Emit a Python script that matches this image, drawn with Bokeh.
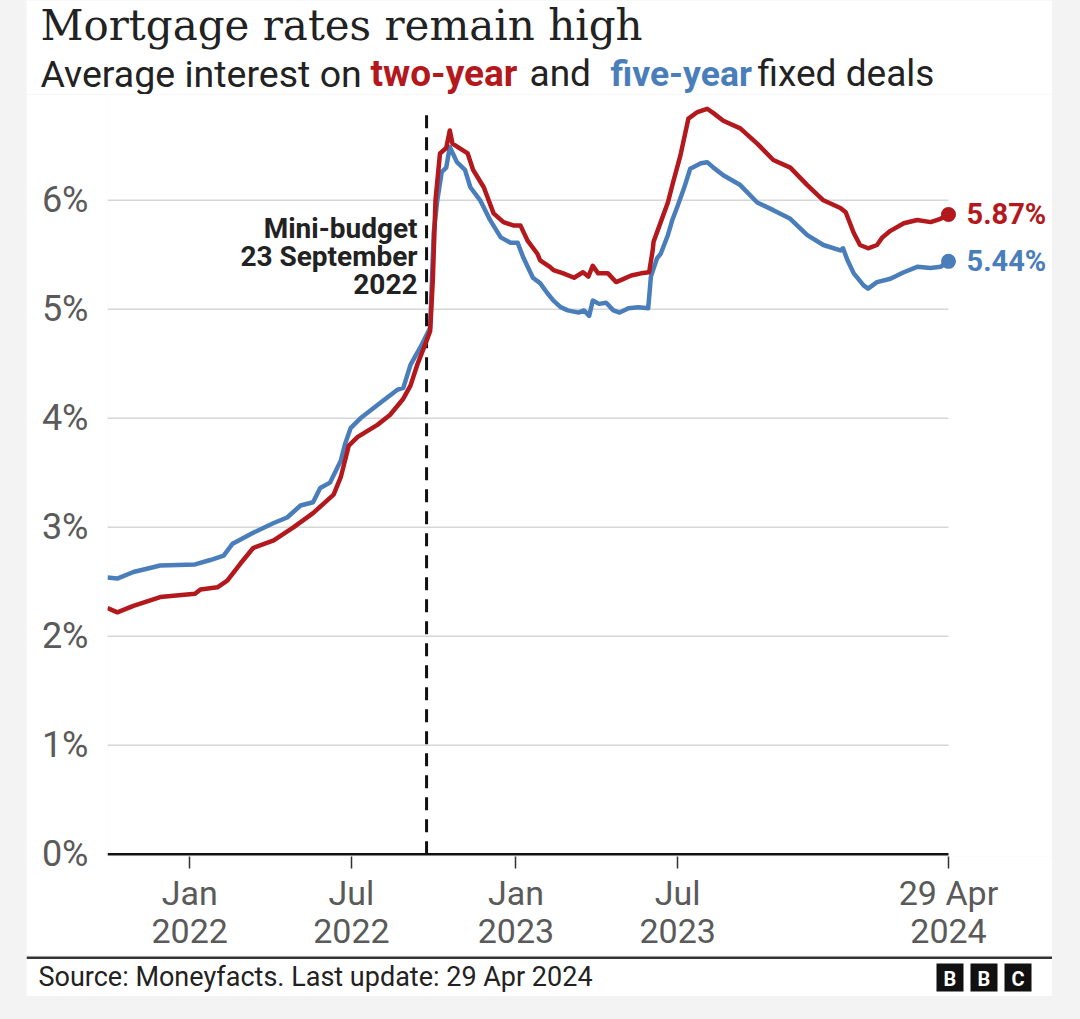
import pandas as pd
from bokeh.plotting import figure
from bokeh.layouts import column
from bokeh.models import Label, FixedTicker, Range1d, ColumnDataSource
from bokeh.embed import file_html
from bokeh.resources import INLINE

# ---------------- data ----------------
two_year_dates = [
    "2021-10-01", "2021-10-12", "2021-10-30", "2021-11-29", "2022-01-07", "2022-01-13",
    "2022-02-01", "2022-02-12", "2022-02-27", "2022-03-13", "2022-04-05", "2022-04-27",
    "2022-05-19", "2022-06-11", "2022-06-19", "2022-06-28", "2022-07-08", "2022-07-30",
    "2022-08-13", "2022-08-28", "2022-09-05", "2022-09-13", "2022-09-22", "2022-09-27",
    "2022-09-30", "2022-10-03", "2022-10-08", "2022-10-15", "2022-10-19", "2022-10-22",
    "2022-11-08", "2022-11-14", "2022-11-26", "2022-12-07", "2022-12-18", "2022-12-29",
    "2023-01-06", "2023-01-14", "2023-01-25", "2023-01-28", "2023-02-08", "2023-02-12",
    "2023-02-23", "2023-03-07", "2023-03-17", "2023-03-23", "2023-03-28", "2023-04-03",
    "2023-04-14", "2023-04-23", "2023-04-29", "2023-05-10", "2023-05-21", "2023-05-30",
    "2023-06-03", "2023-06-04", "2023-06-12", "2023-06-20", "2023-06-26", "2023-07-04",
    "2023-07-13", "2023-07-23", "2023-08-03", "2023-08-10", "2023-08-21", "2023-09-09",
    "2023-09-28", "2023-10-16", "2023-11-04", "2023-11-23", "2023-12-11", "2023-12-30",
    "2024-01-05", "2024-01-14", "2024-01-21", "2024-01-30", "2024-02-09", "2024-02-15",
    "2024-02-24", "2024-03-10", "2024-03-25", "2024-04-09", "2024-04-20", "2024-04-29",
]
two_year_rates = [
    2.26, 2.22, 2.28, 2.36, 2.39, 2.43,
    2.45, 2.51, 2.67, 2.81, 2.88, 3.00,
    3.13, 3.30, 3.46, 3.75, 3.83, 3.94,
    4.03, 4.18, 4.30, 4.50, 4.69, 4.80,
    5.27, 6.00, 6.43, 6.48, 6.64, 6.52,
    6.43, 6.28, 6.12, 5.88, 5.80, 5.77,
    5.77, 5.63, 5.51, 5.45, 5.39, 5.36,
    5.33, 5.29, 5.34, 5.30, 5.40, 5.33,
    5.33, 5.25, 5.27, 5.31, 5.33, 5.34,
    5.54, 5.62, 5.80, 5.98, 6.17, 6.41,
    6.75, 6.81, 6.84, 6.80, 6.73, 6.66,
    6.52, 6.37, 6.30, 6.14, 6.00, 5.93,
    5.89, 5.70, 5.59, 5.56, 5.59, 5.66,
    5.72, 5.79, 5.82, 5.80, 5.83, 5.87,
]
five_year_dates = [
    "2021-10-01", "2021-10-12", "2021-10-30", "2021-11-29", "2022-01-07", "2022-01-24",
    "2022-02-08", "2022-02-18", "2022-03-13", "2022-04-05", "2022-04-20", "2022-05-05",
    "2022-05-19", "2022-05-27", "2022-06-07", "2022-06-19", "2022-06-24", "2022-06-30",
    "2022-07-11", "2022-08-02", "2022-08-21", "2022-08-28", "2022-09-05", "2022-09-16",
    "2022-09-24", "2022-09-27", "2022-10-01", "2022-10-05", "2022-10-10", "2022-10-15",
    "2022-10-19", "2022-10-27", "2022-11-05", "2022-11-11", "2022-11-22", "2022-12-03",
    "2022-12-15", "2022-12-26", "2023-01-03", "2023-01-09", "2023-01-20", "2023-01-28",
    "2023-02-05", "2023-02-12", "2023-02-20", "2023-02-28", "2023-03-12", "2023-03-18",
    "2023-03-24", "2023-03-28", "2023-04-04", "2023-04-12", "2023-04-20", "2023-04-27",
    "2023-05-07", "2023-05-18", "2023-05-29", "2023-06-01", "2023-06-08", "2023-06-12",
    "2023-06-20", "2023-06-25", "2023-07-01", "2023-07-08", "2023-07-15", "2023-07-27",
    "2023-08-03", "2023-08-10", "2023-08-21", "2023-09-09", "2023-09-28", "2023-10-16",
    "2023-11-04", "2023-11-23", "2023-12-11", "2023-12-30", "2024-01-02", "2024-01-07",
    "2024-01-14", "2024-01-25", "2024-01-30", "2024-02-09", "2024-02-24", "2024-03-10",
    "2024-03-25", "2024-04-09", "2024-04-20", "2024-04-29",
]
five_year_rates = [
    2.54, 2.53, 2.59, 2.65, 2.66, 2.70,
    2.74, 2.85, 2.95, 3.04, 3.09, 3.20,
    3.23, 3.36, 3.41, 3.61, 3.77, 3.91,
    4.00, 4.14, 4.26, 4.28, 4.49, 4.65,
    4.78, 4.83, 5.70, 6.00, 6.26, 6.30,
    6.49, 6.35, 6.28, 6.12, 6.00, 5.82,
    5.66, 5.61, 5.61, 5.48, 5.29, 5.24,
    5.15, 5.08, 5.02, 4.99, 4.97, 4.99,
    4.94, 5.08, 5.05, 5.06, 4.99, 4.97,
    5.01, 5.02, 5.01, 5.30, 5.47, 5.51,
    5.68, 5.82, 5.95, 6.11, 6.29, 6.34,
    6.35, 6.30, 6.23, 6.14, 5.98, 5.91,
    5.83, 5.68, 5.59, 5.54, 5.56, 5.45,
    5.33, 5.22, 5.19, 5.25, 5.28, 5.34,
    5.39, 5.38, 5.39, 5.44,
]
y_ticks = [0, 1, 2, 3, 4, 5, 6]
y_tick_labels = ["0%", "1%", "2%", "3%", "4%", "5%", "6%"]
x_tick_dates = ["2022-01-01", "2022-07-01", "2023-01-01", "2023-07-01", "2024-04-29"]
x_tick_labels = ["Jan\n2022", "Jul\n2022", "Jan\n2023", "Jul\n2023", "29 Apr\n2024"]
event_date = "2022-09-23"
event_label = "Mini-budget\n23 September\n2022"
end_labels = ["5.87%", "5.44%"]

RED = "#b3191c"
BLUE = "#4a7ebb"
TXT = "#222222"
GREY = "#5a5a5a"
CARD_L, CARD_R = 26, 1052


def ms(d):
    return pd.Timestamp(d).value / 1e6


def plain_fig(top, bottom):
    f = figure(width=CARD_R - CARD_L, height=bottom - top, output_backend="svg",
               toolbar_location=None, x_axis_location=None, y_axis_location=None,
               x_range=Range1d(CARD_L, CARD_R), y_range=Range1d(bottom, top),
               min_border=0, frame_align=False)
    f.outline_line_color = None
    f.grid.visible = False
    f.background_fill_color = "white"
    f.border_fill_color = "white"
    return f


def lab(f, px, py, text, size, color=TXT, font="Roboto", style="normal",
        align="left", baseline="middle"):
    f.add_layout(Label(x=px, y=py, text=text, text_font=font,
                       text_font_size=f"{size}px", text_font_style=style,
                       text_color=color, text_align=align, text_baseline=baseline))


# ---------------- header ----------------
head = plain_fig(0, 94)
lab(head, 40, 25, "Mortgage rates remain high", 42, font="DejaVu Serif")
lab(head, 40, 73, "Average interest on", 37.5)
lab(head, 370, 73, "two-year", 37, color=RED, style="bold")
lab(head, 529, 73, "and", 37)
lab(head, 610, 73, "five-year", 35.5, color=BLUE, style="bold")
lab(head, 757, 73, "fixed deals", 37)

# ---------------- main chart ----------------
TOP, BOT = 94, 955
FL, FB = 107, 856
px_per_day = 841 / 941
x0 = pd.Timestamp(two_year_dates[0])
x1 = x0 + pd.Timedelta(days=(CARD_R - FL) / px_per_day)
y_lo = -0.02
y_hi = y_lo + (FB - TOP) / 109.0

p = figure(width=CARD_R - CARD_L, height=BOT - TOP, output_backend="svg",
           toolbar_location=None, x_axis_type="datetime",
           x_range=Range1d(x0, x1), y_range=Range1d(y_lo, y_hi),
           min_border_left=FL - CARD_L, min_border_right=0,
           min_border_top=0, min_border_bottom=BOT - FB, frame_align=False)
p.outline_line_color = None
p.border_fill_color = "white"
p.background_fill_color = "white"
p.grid.visible = False

two = ColumnDataSource(dict(x=pd.to_datetime(two_year_dates), y=two_year_rates))
five = ColumnDataSource(dict(x=pd.to_datetime(five_year_dates), y=five_year_rates))

g_start = pd.Timestamp(two_year_dates[0])
g_end = pd.Timestamp(two_year_dates[-1])
p.segment(x0=[g_start] * (len(y_ticks) - 1), x1=[g_end] * (len(y_ticks) - 1),
          y0=y_ticks[1:], y1=y_ticks[1:], line_color="#d6d6d6", line_width=1.5)
p.segment(x0=[g_start], x1=[g_end], y0=[y_ticks[0]], y1=[y_ticks[0]],
          line_color="#111111", line_width=2.5)

ev = pd.Timestamp(event_date)
p.segment(x0=[ev], x1=[ev], y0=[0], y1=[6.78], line_color="#111111",
          line_width=3, line_dash="13 9")

p.line("x", "y", source=five, line_color=BLUE, line_width=4.5, line_join="round")
p.line("x", "y", source=two, line_color=RED, line_width=4.5, line_join="round")
p.scatter([pd.Timestamp(two_year_dates[-1])], [two_year_rates[-1]], size=15,
          fill_color=RED, line_color=None)
p.scatter([pd.Timestamp(five_year_dates[-1])], [five_year_rates[-1]], size=15,
          fill_color=BLUE, line_color=None)

p.add_layout(Label(x=ms(two_year_dates[-1]), y=two_year_rates[-1],
                   text=end_labels[0], x_offset=18, text_baseline="middle",
                   text_font="Roboto", text_font_style="bold",
                   text_font_size="29px", text_color=RED))
p.add_layout(Label(x=ms(five_year_dates[-1]), y=five_year_rates[-1],
                   text=end_labels[1], x_offset=18, text_baseline="middle",
                   text_font="Roboto", text_font_style="bold",
                   text_font_size="29px", text_color=BLUE))

p.add_layout(Label(x=ms(event_date), y=5.486, text=event_label, x_offset=-9,
                   text_align="right", text_baseline="middle",
                   text_font="Roboto", text_font_style="bold",
                   text_font_size="28px", text_color=TXT, text_line_height=0.85))

xa = p.xaxis[0]
xa.ticker = FixedTicker(ticks=[ms(d) for d in x_tick_dates])
xa.major_label_overrides = {ms(d): t for d, t in zip(x_tick_dates, x_tick_labels)}
xa.axis_line_color = None
xa.major_tick_in = 0
xa.major_tick_out = 12
xa.major_tick_line_color = "#333333"
xa.major_tick_line_width = 1.5
xa.minor_tick_line_color = None
xa.major_label_standoff = 4
xa.major_label_text_font = "Roboto"
xa.major_label_text_font_size = "34px"
xa.major_label_text_color = GREY
xa.major_label_text_line_height = 0.95

ya = p.yaxis[0]
ya.ticker = FixedTicker(ticks=y_ticks)
ya.major_label_overrides = {t: s for t, s in zip(y_ticks, y_tick_labels)}
ya.axis_line_color = None
ya.major_tick_line_color = None
ya.minor_tick_line_color = None
ya.major_tick_in = 0
ya.major_tick_out = 0
ya.major_label_standoff = 19
ya.major_label_text_font = "Roboto"
ya.major_label_text_font_size = "36px"
ya.major_label_text_color = GREY

# ---------------- footer ----------------
foot = plain_fig(955, 996)
foot.quad(left=[CARD_L], right=[CARD_R], top=[956], bottom=[958.5],
          fill_color="#333333", line_color=None)
lab(foot, 38, 976.5, "Source: Moneyfacts. Last update: 29 Apr 2024", 27)
logo_letters = list("BBC")
logo_left = [936 + i * 34 for i in range(3)]
foot.quad(left=logo_left, right=[l + 27 for l in logo_left], top=[963] * 3,
          bottom=[991] * 3, fill_color="#111111", line_color=None)
for l, letter in zip(logo_left, logo_letters):
    lab(foot, l + 13.5, 978, letter, 20, color="white", style="bold",
        align="center", baseline="middle")

page = column(head, p, foot, spacing=0, margin=(0, 0, 0, CARD_L))
html = file_html(page, INLINE)
html = html.replace("</head>", "<style>body{background:#f3f3f3;}</style></head>", 1)
open("out.html", "w").write(html)
